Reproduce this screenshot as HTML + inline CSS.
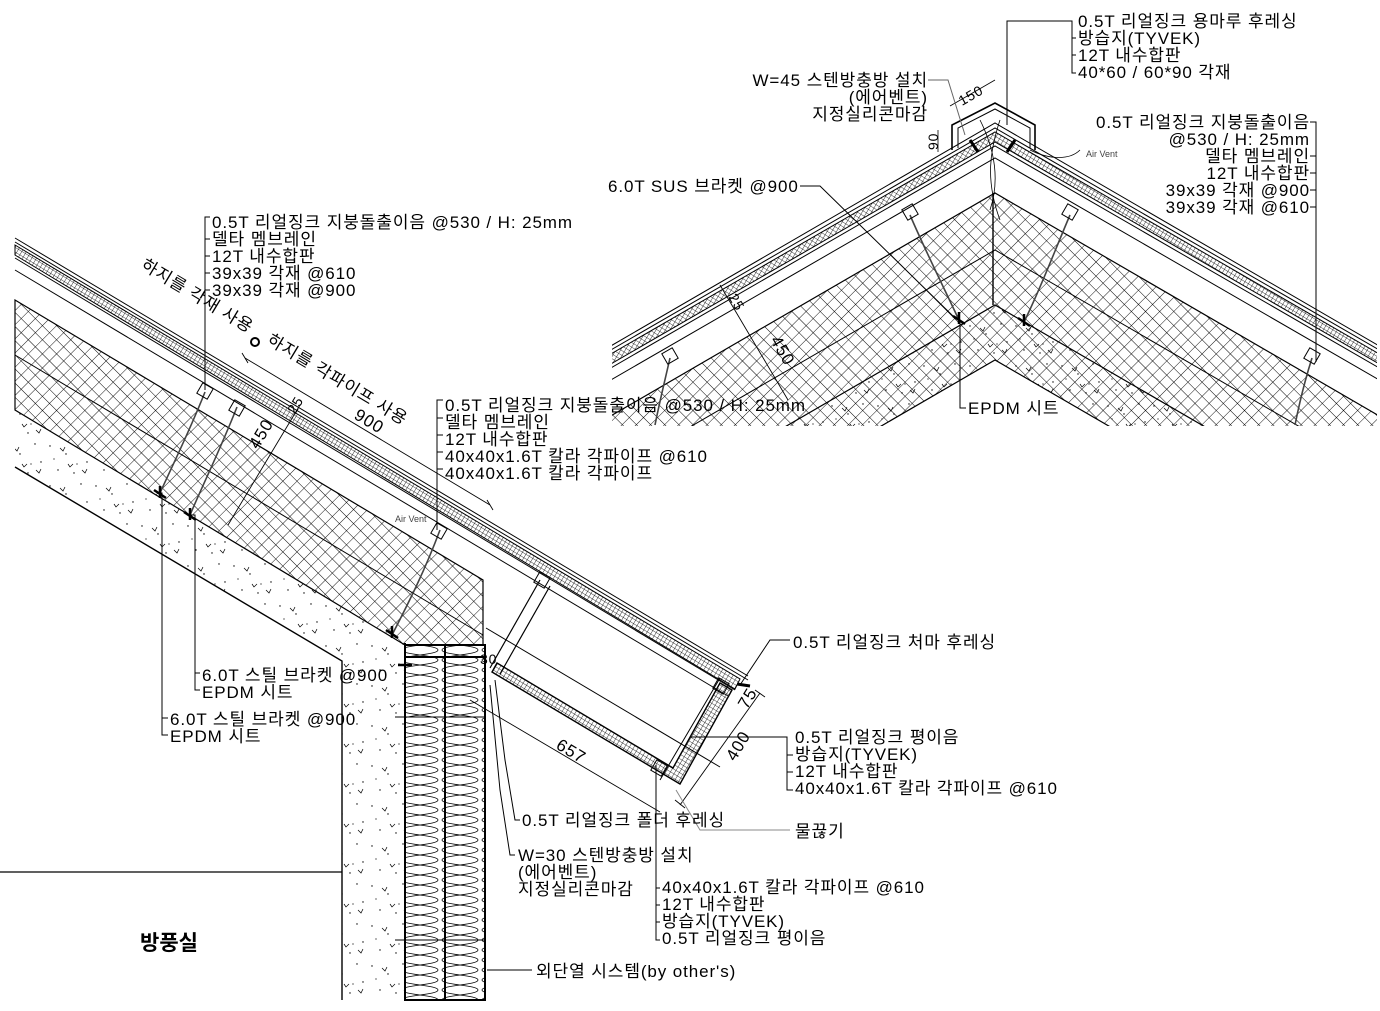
<!DOCTYPE html>
<html><head><meta charset="utf-8"><style>
html,body{margin:0;padding:0;background:#fff;}
svg{display:block;}
text{font-family:"Liberation Sans","Noto Sans CJK KR",sans-serif;font-size:17px;letter-spacing:0.9px;fill:#000;}
.s{font-size:9px;fill:#444;letter-spacing:0;}
.d{font-size:14px;}
</style></head><body>
<svg width="1380" height="1011" viewBox="0 0 1380 1011" xmlns="http://www.w3.org/2000/svg">
<defs>
<pattern id="hx" width="10" height="10" patternUnits="userSpaceOnUse" patternTransform="rotate(45)">
<path d="M0 0H10M0 0V10" stroke="#000" stroke-width="0.9" fill="none"/></pattern>
<pattern id="cc" width="46" height="40" patternUnits="userSpaceOnUse">
<g fill="#000"><circle cx="4" cy="6" r="0.7"/><circle cx="20" cy="14" r="0.7"/><circle cx="35" cy="4" r="0.7"/><circle cx="12" cy="30" r="0.7"/><circle cx="28" cy="33" r="0.7"/><circle cx="41" cy="22" r="0.7"/><circle cx="8" cy="19" r="0.6"/><circle cx="31" cy="24" r="0.6"/></g>
<path d="M14 8l3 3 2-4M36 30l3 3 2-4M22 24l2 3 3-3" stroke="#000" stroke-width="0.7" fill="none"/></pattern>
<pattern id="ins" width="40" height="20" patternUnits="userSpaceOnUse">
<path d="M2 0C2 5 38 5 38 10C38 15 2 15 2 20M38 0C38 5 2 5 2 10C2 15 38 15 38 20" stroke="#000" stroke-width="0.8" fill="none"/></pattern>
<pattern id="dt" width="4" height="4" patternUnits="userSpaceOnUse" patternTransform="rotate(31)">
<path d="M0 0H4M0 0V4" stroke="#000" stroke-width="0.8"/></pattern>
<clipPath id="cr"><rect x="612" y="95" width="765" height="331"/></clipPath>
</defs>

<polygon points="15,300 483,580 483,645 405,645 15,410" fill="url(#hx)" stroke="#000" stroke-width="1.2"/>
<line x1="15" y1="355" x2="483" y2="635" stroke="#000" stroke-width="1"/>
<polygon points="15,410 405,643 405,1000 342,1000 342,661 15,467" fill="url(#cc)"/>
<polyline points="15,467 342,661 342,1000" fill="none" stroke="#000" stroke-width="1.4"/>
<line x1="405" y1="643" x2="405" y2="1000" stroke="#000" stroke-width="2"/>
<rect x="405" y="645" width="80" height="355" fill="url(#ins)" stroke="#000" stroke-width="2"/>
<line x1="445" y1="645" x2="445" y2="1000" stroke="#000" stroke-width="2"/>
<line x1="405" y1="657" x2="485" y2="657" stroke="#000" stroke-width="2"/>
<line x1="395" y1="717" x2="485" y2="717" stroke="#000" stroke-width="1"/>
<line x1="395" y1="940" x2="485" y2="940" stroke="#000" stroke-width="1"/>
<line x1="0" y1="872" x2="342" y2="872" stroke="#000" stroke-width="1.2"/>
<line x1="15" y1="238" x2="748" y2="676" stroke="#000" stroke-width="1"/>
<line x1="15" y1="242" x2="748" y2="680" stroke="#000" stroke-width="1"/>
<polygon points="15,245 740,679 735,689 15,255" fill="url(#dt)" stroke="#000" stroke-width="1"/>
<line x1="15" y1="258" x2="735" y2="690" stroke="#000" stroke-width="1"/>
<line x1="15" y1="270" x2="728" y2="696" stroke="#000" stroke-width="1"/>
<polygon points="492,672 680,784 732,690 720,683 673,768 497,663" fill="url(#dt)" stroke="#000" stroke-width="1.4"/>
<line x1="486" y1="628" x2="720" y2="767" stroke="#000" stroke-width="1"/>
<line x1="540" y1="580" x2="490" y2="668" stroke="#000" stroke-width="1.2"/>
<line x1="550" y1="586" x2="500" y2="674" stroke="#000" stroke-width="1.2"/>
<line x1="720" y1="678" x2="660" y2="780" stroke="#000" stroke-width="1"/>
<rect x="536" y="574" width="12" height="12" fill="none" stroke="#000" transform="rotate(30 542 580)"/>
<rect x="715" y="680" width="12" height="12" fill="none" stroke="#000" transform="rotate(30 721 686)"/>
<rect x="653" y="762" width="12" height="12" fill="none" stroke="#000" transform="rotate(30 659 768)"/>
<line x1="737" y1="684" x2="750" y2="686" stroke="#000" stroke-width="3"/>
<g stroke="#444" stroke-width="1.6" fill="none">
<path d="M205 392 C190 430 175 460 160 493"/><path d="M237 407 C220 450 205 480 190 515"/>
<path d="M440 530 C425 570 410 600 392 635"/>
</g>
<g fill="none" stroke="#000" stroke-width="1">
<rect x="199" y="385" width="12" height="12" transform="rotate(30 205 391)"/>
<rect x="231" y="402" width="12" height="12" transform="rotate(30 237 408)"/>
<rect x="433" y="525" width="12" height="12" transform="rotate(30 439 531)"/>
</g>
<g stroke="#000" stroke-width="2.5"><path d="M154 490l12 8M160 486l0 12"/><path d="M184 512l12 8M190 508l0 12"/><path d="M386 630l12 8M392 626l0 12"/><path d="M398 665h14"/></g>
<g stroke="#000" stroke-width="0.9" fill="none">
<line x1="245" y1="358" x2="490" y2="505"/><line x1="242" y1="353" x2="248" y2="363"/><line x1="487" y1="500" x2="493" y2="510"/>
<line x1="300" y1="405" x2="228" y2="525"/>
<line x1="470" y1="700" x2="660" y2="812"/>
<line x1="760" y1="693" x2="680" y2="805"/><line x1="755" y1="690" x2="765" y2="697"/><line x1="675" y1="800" x2="685" y2="808"/>
</g>
<text transform="translate(140,268) rotate(31)">하지를 각재 사용</text>
<text transform="translate(266,343) rotate(31)">하지를 각파이프 사용</text>
<circle cx="255" cy="342" r="4" fill="none" stroke="#000" stroke-width="2"/>
<text transform="translate(353,418) rotate(31)">900</text>
<text transform="translate(258,450) rotate(-59)">450</text>
<text class="d" transform="translate(295,415) rotate(-59)">25</text>
<text transform="translate(555,748) rotate(31)">657</text>
<text transform="translate(735,762) rotate(-59)">400</text>
<text transform="translate(747,710) rotate(-59)">75</text>
<text class="d" x="480" y="664">30</text>
<text x="395" y="522" class="s">Air Vent</text>

<g stroke="#000" stroke-width="1" fill="none">
<polyline points="210,217 205,217 205,390"/>
<line x1="205" y1="239" x2="210" y2="239"/><line x1="205" y1="256" x2="210" y2="256"/><line x1="205" y1="273" x2="210" y2="273"/><line x1="205" y1="290" x2="210" y2="290"/>
<polyline points="443,400 437,400 437,530"/>
<line x1="437" y1="418" x2="443" y2="418"/><line x1="437" y1="435" x2="443" y2="435"/><line x1="437" y1="452" x2="443" y2="452"/><line x1="437" y1="469" x2="443" y2="469"/>
<polyline points="190,515 195,515 195,690 200,690"/><line x1="195" y1="673" x2="200" y2="673"/>
<polyline points="160,493 162,493 162,735 168,735"/><line x1="162" y1="718" x2="168" y2="718"/>
<polyline points="740,685 770,640 790,640"/>
<polyline points="690,737 787,737 787,790 793,790"/><line x1="787" y1="755" x2="793" y2="755"/><line x1="787" y1="772" x2="793" y2="772"/>
<polyline points="495,680 505,760 515,820 520,820"/>
<polyline points="490,685 500,790 510,855 515,855"/>
<polyline points="676,790 700,830 790,830" stroke="#888"/>
<polyline points="656,765 656,940 660,940"/><line x1="656" y1="888" x2="660" y2="888"/><line x1="656" y1="905" x2="660" y2="905"/><line x1="656" y1="922" x2="660" y2="922"/>
<line x1="487" y1="970" x2="532" y2="970"/>
</g>
<text x="212" y="228">0.5T 리얼징크 지붕돌출이음 @530 / H: 25mm</text>
<text x="212" y="245">델타 멤브레인</text>
<text x="212" y="262">12T 내수합판</text>
<text x="212" y="279">39x39 각재 @610</text>
<text x="212" y="296">39x39 각재 @900</text>
<text x="445" y="411">0.5T 리얼징크 지붕돌출이음 @530 / H: 25mm</text>
<text x="445" y="428">델타 멤브레인</text>
<text x="445" y="445">12T 내수합판</text>
<text x="445" y="462">40x40x1.6T 칼라 각파이프 @610</text>
<text x="445" y="479">40x40x1.6T 칼라 각파이프</text>
<text x="202" y="681">6.0T 스틸 브라켓 @900</text>
<text x="202" y="698">EPDM 시트</text>
<text x="170" y="725">6.0T 스틸 브라켓 @900</text>
<text x="170" y="742">EPDM 시트</text>
<text x="793" y="648">0.5T 리얼징크 처마 후레싱</text>
<text x="795" y="743">0.5T 리얼징크 평이음</text>
<text x="795" y="760">방습지(TYVEK)</text>
<text x="795" y="777">12T 내수합판</text>
<text x="795" y="794">40x40x1.6T 칼라 각파이프 @610</text>
<text x="522" y="826">0.5T 리얼징크 폴더 후레싱</text>
<text x="795" y="837">물끊기</text>
<text x="518" y="861">W=30 스텐방충방 설치</text>
<text x="518" y="878">(에어벤트)</text>
<text x="518" y="895">지정실리콘마감</text>
<text x="662" y="893">40x40x1.6T 칼라 각파이프 @610</text>
<text x="662" y="910">12T 내수합판</text>
<text x="662" y="927">방습지(TYVEK)</text>
<text x="662" y="944">0.5T 리얼징크 평이음</text>
<text x="536" y="977">외단열 시스템(by other's)</text>
<text x="140" y="950" style="font-size:21px;font-weight:bold;letter-spacing:0">방풍실</text>

<g clip-path="url(#cr)">
<polygon points="995,193 1400,428 1400,500 590,500 590,428" fill="url(#hx)"/>
<polygon points="995,305 1400,540 590,540" fill="url(#cc)"/>
<polygon points="995,360 1400,595 590,595" fill="#fff"/>
<g stroke="#000" fill="none">
<polyline points="590,428 995,193 1400,428" stroke-width="1.2"/>
<polyline points="590,485 995,250 1400,485" stroke-width="1"/>
<polyline points="590,540 995,305 1400,540" stroke-width="1.2"/>
<polyline points="590,595 995,360 1400,595" stroke-width="1.2"/>
<polyline points="590,358 995,123 1400,358" stroke-width="1"/>
<polyline points="590,362 995,128 1400,362" stroke-width="1"/>
<polygon points="590,366 995,132 1400,366 1400,376 995,142 590,376" fill="url(#dt)" stroke-width="1"/>
<polyline points="590,380 995,146 1400,380" stroke-width="1"/>
<polyline points="590,392 995,158 1400,392" stroke-width="1"/>
<line x1="993" y1="193" x2="993" y2="305" stroke-width="1.4"/>
<path d="M910 215 C925 250 945 290 958 318M1070 215 C1055 250 1040 290 1024 322M670 358 C665 380 660 400 655 425M1312 358 C1305 380 1300 400 1295 425" stroke="#444" stroke-width="1.6"/>
<rect x="904" y="206" width="12" height="12" transform="rotate(-30 910 212)"/>
<rect x="1064" y="206" width="12" height="12" transform="rotate(30 1070 212)"/>
<rect x="664" y="350" width="12" height="12" transform="rotate(-30 670 356)"/>
<rect x="1306" y="350" width="12" height="12" transform="rotate(30 1312 356)"/>
<line x1="720" y1="285" x2="788" y2="400" stroke-width="0.9"/>
</g>
</g>
<text class="d" transform="translate(728,297) rotate(60)">25</text>
<text transform="translate(770,340) rotate(60)">450</text>
<g stroke="#000" stroke-width="2.5"><path d="M953 316l12 8M959 312l0 12"/><path d="M1018 318l12 8M1024 314l0 12"/></g>
<g stroke="#000" fill="none">
<polyline points="952,150 952,125 995,103 1035,125 1035,150" stroke-width="1.6"/>
<polyline points="958,148 958,128 995,109 1030,128 1030,148" stroke-width="1"/>
<path d="M970 140 l8 12M1015 140 l-8 12" stroke-width="3"/>
<path d="M980 120 C995 150 1000 180 990 210M1000 120 C990 150 985 180 1000 220" stroke-width="0.8"/>
<path d="M1030 150 C1050 160 1070 160 1080 150" stroke-width="0.8"/>
<line x1="950" y1="106" x2="995" y2="80" stroke-width="0.8"/>
<line x1="938" y1="130" x2="938" y2="152" stroke-width="0.8"/>
</g>
<text class="d" transform="translate(962,106) rotate(-30)">150</text>
<text class="d" transform="translate(938,150) rotate(-90)">90</text>
<text x="1086" y="157" class="s">Air Vent</text>
<g stroke="#000" stroke-width="1" fill="none">
<polyline points="1007,125 1007,21 1072,21 1072,73 1076,73"/>
<line x1="1072" y1="38" x2="1076" y2="38"/><line x1="1072" y1="55" x2="1076" y2="55"/>
<polyline points="928,80 948,80 965,135" stroke="#666"/>
<polyline points="1310,122 1316,122 1316,362"/>
<line x1="1310" y1="156" x2="1316" y2="156"/><line x1="1310" y1="173" x2="1316" y2="173"/><line x1="1310" y1="190" x2="1316" y2="190"/><line x1="1310" y1="207" x2="1316" y2="207"/>
<polyline points="800,186 820,186 955,318"/>
<polyline points="960,322 960,408 966,408"/>
</g>
<text x="1078" y="27">0.5T 리얼징크 용마루 후레싱</text>
<text x="1078" y="44">방습지(TYVEK)</text>
<text x="1078" y="61">12T 내수합판</text>
<text x="1078" y="78">40*60 / 60*90 각재</text>
<text x="928" y="86" text-anchor="end">W=45 스텐방충방 설치</text>
<text x="928" y="103" text-anchor="end">(에어벤트)</text>
<text x="928" y="120" text-anchor="end">지정실리콘마감</text>
<text x="1310" y="128" text-anchor="end">0.5T 리얼징크 지붕돌출이음</text>
<text x="1310" y="145" text-anchor="end">@530 / H: 25mm</text>
<text x="1310" y="162" text-anchor="end">델타 멤브레인</text>
<text x="1310" y="179" text-anchor="end">12T 내수합판</text>
<text x="1310" y="196" text-anchor="end">39x39 각재 @900</text>
<text x="1310" y="213" text-anchor="end">39x39 각재 @610</text>
<text x="608" y="192">6.0T SUS 브라켓 @900</text>
<text x="968" y="414">EPDM 시트</text>
</svg>
</body></html>
